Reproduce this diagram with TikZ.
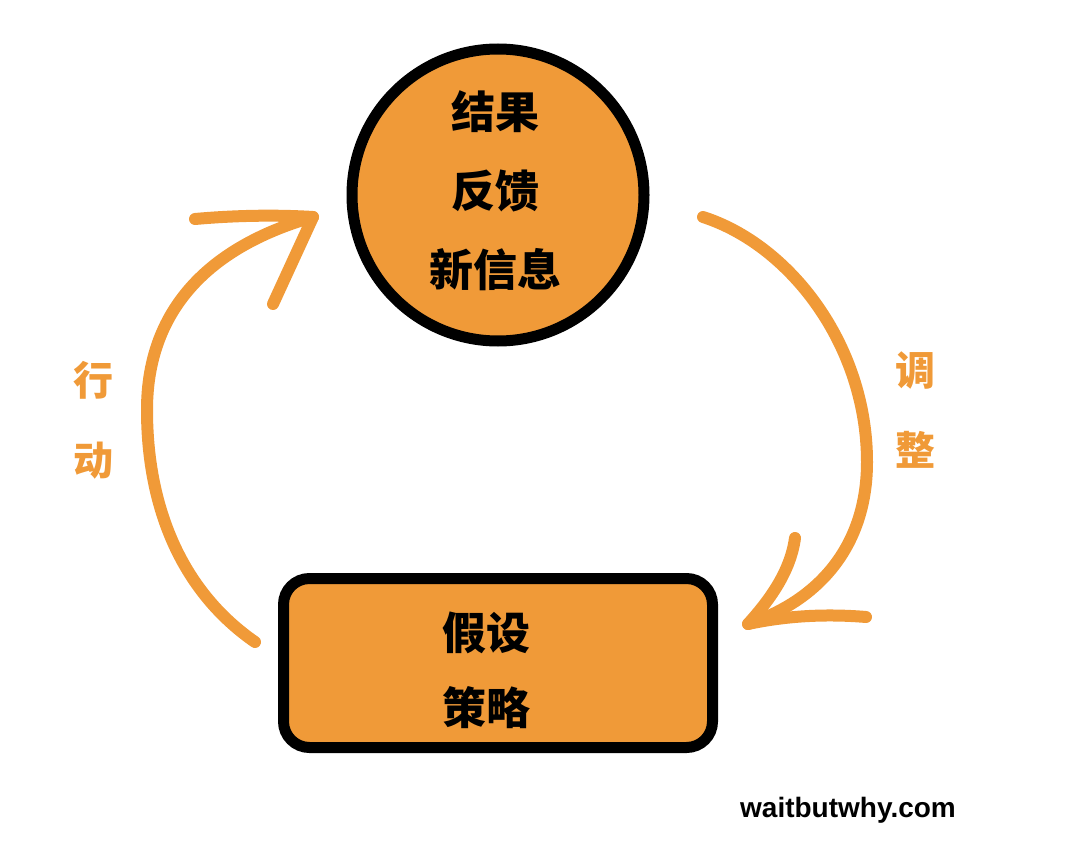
\documentclass[tikz,border=0pt]{standalone}
\usepackage{fontspec}
\newfontfamily\cjk{Noto Sans CJK SC}
\newfontfamily\lsans{Liberation Sans}
\definecolor{org}{HTML}{F09A38}
\tikzset{
  x=1pt, y=-1pt,
  box/.style={draw=black, line width=11pt, fill=org, inner sep=0pt},
  cjktext/.style={font=\cjk\bfseries\fontsize{44}{79}\selectfont, align=center, text=black},
  sidelabel/.style={font=\cjk\bfseries\fontsize{40}{80}\selectfont, align=center, text=org},
  stroke/.style={draw=org, line width=12pt, line cap=round, line join=round}
}
\begin{document}
\begin{tikzpicture}
\useasboundingbox (0,0) rectangle (1066,856);
% nodes
\node[box, circle, minimum size=292pt] (res) at (498,195) {};
\node[cjktext] (restext) at (495,191) {结果\\反馈\\新信息};
\node[box, rectangle, rounded corners=26pt, minimum width=429pt, minimum height=169pt] (hyp) at (498,663) {};
\node[cjktext, font=\cjk\bfseries\fontsize{44}{75}\selectfont] (hyptext) at (486,670) {假设\\策略};
\node[sidelabel] (act) at (93,420) {行\\动};
\node[sidelabel] (adj) at (915,410) {调\\整};
\node[font=\lsans\bfseries\fontsize{28}{30}\selectfont] (wbw) at (848,810) {waitbutwhy.com};
% connector end points
\coordinate (l0) at (255,642);
\coordinate (l1) at (147,410);
\coordinate (ltip) at (313,217);
\coordinate (lb1) at (195,219);
\coordinate (lb2) at (273,304);
\coordinate (r0) at (703,217);
\coordinate (r1) at (867,462);
\coordinate (rtip) at (748,624);
\coordinate (rb1) at (795,538);
\coordinate (rb2) at (866,617);
% left arrow: hyp -> res
\draw[stroke] (l0) .. controls (180,590) and (147,505) .. (l1)
              .. controls (147,305) and (215,245) .. (ltip);
\draw[stroke] (lb1) .. controls (240,215) and (280,215) .. (ltip) -- (lb2);
% right arrow: res -> hyp
\draw[stroke] (r0) .. controls (790,245) and (867,345) .. (r1)
              .. controls (867,545) and (820,600) .. (rtip);
\draw[stroke] (rb1) .. controls (790,575) and (765,605) .. (rtip)
              .. controls (790,615) and (830,614) .. (rb2);
\end{tikzpicture}
\end{document}
